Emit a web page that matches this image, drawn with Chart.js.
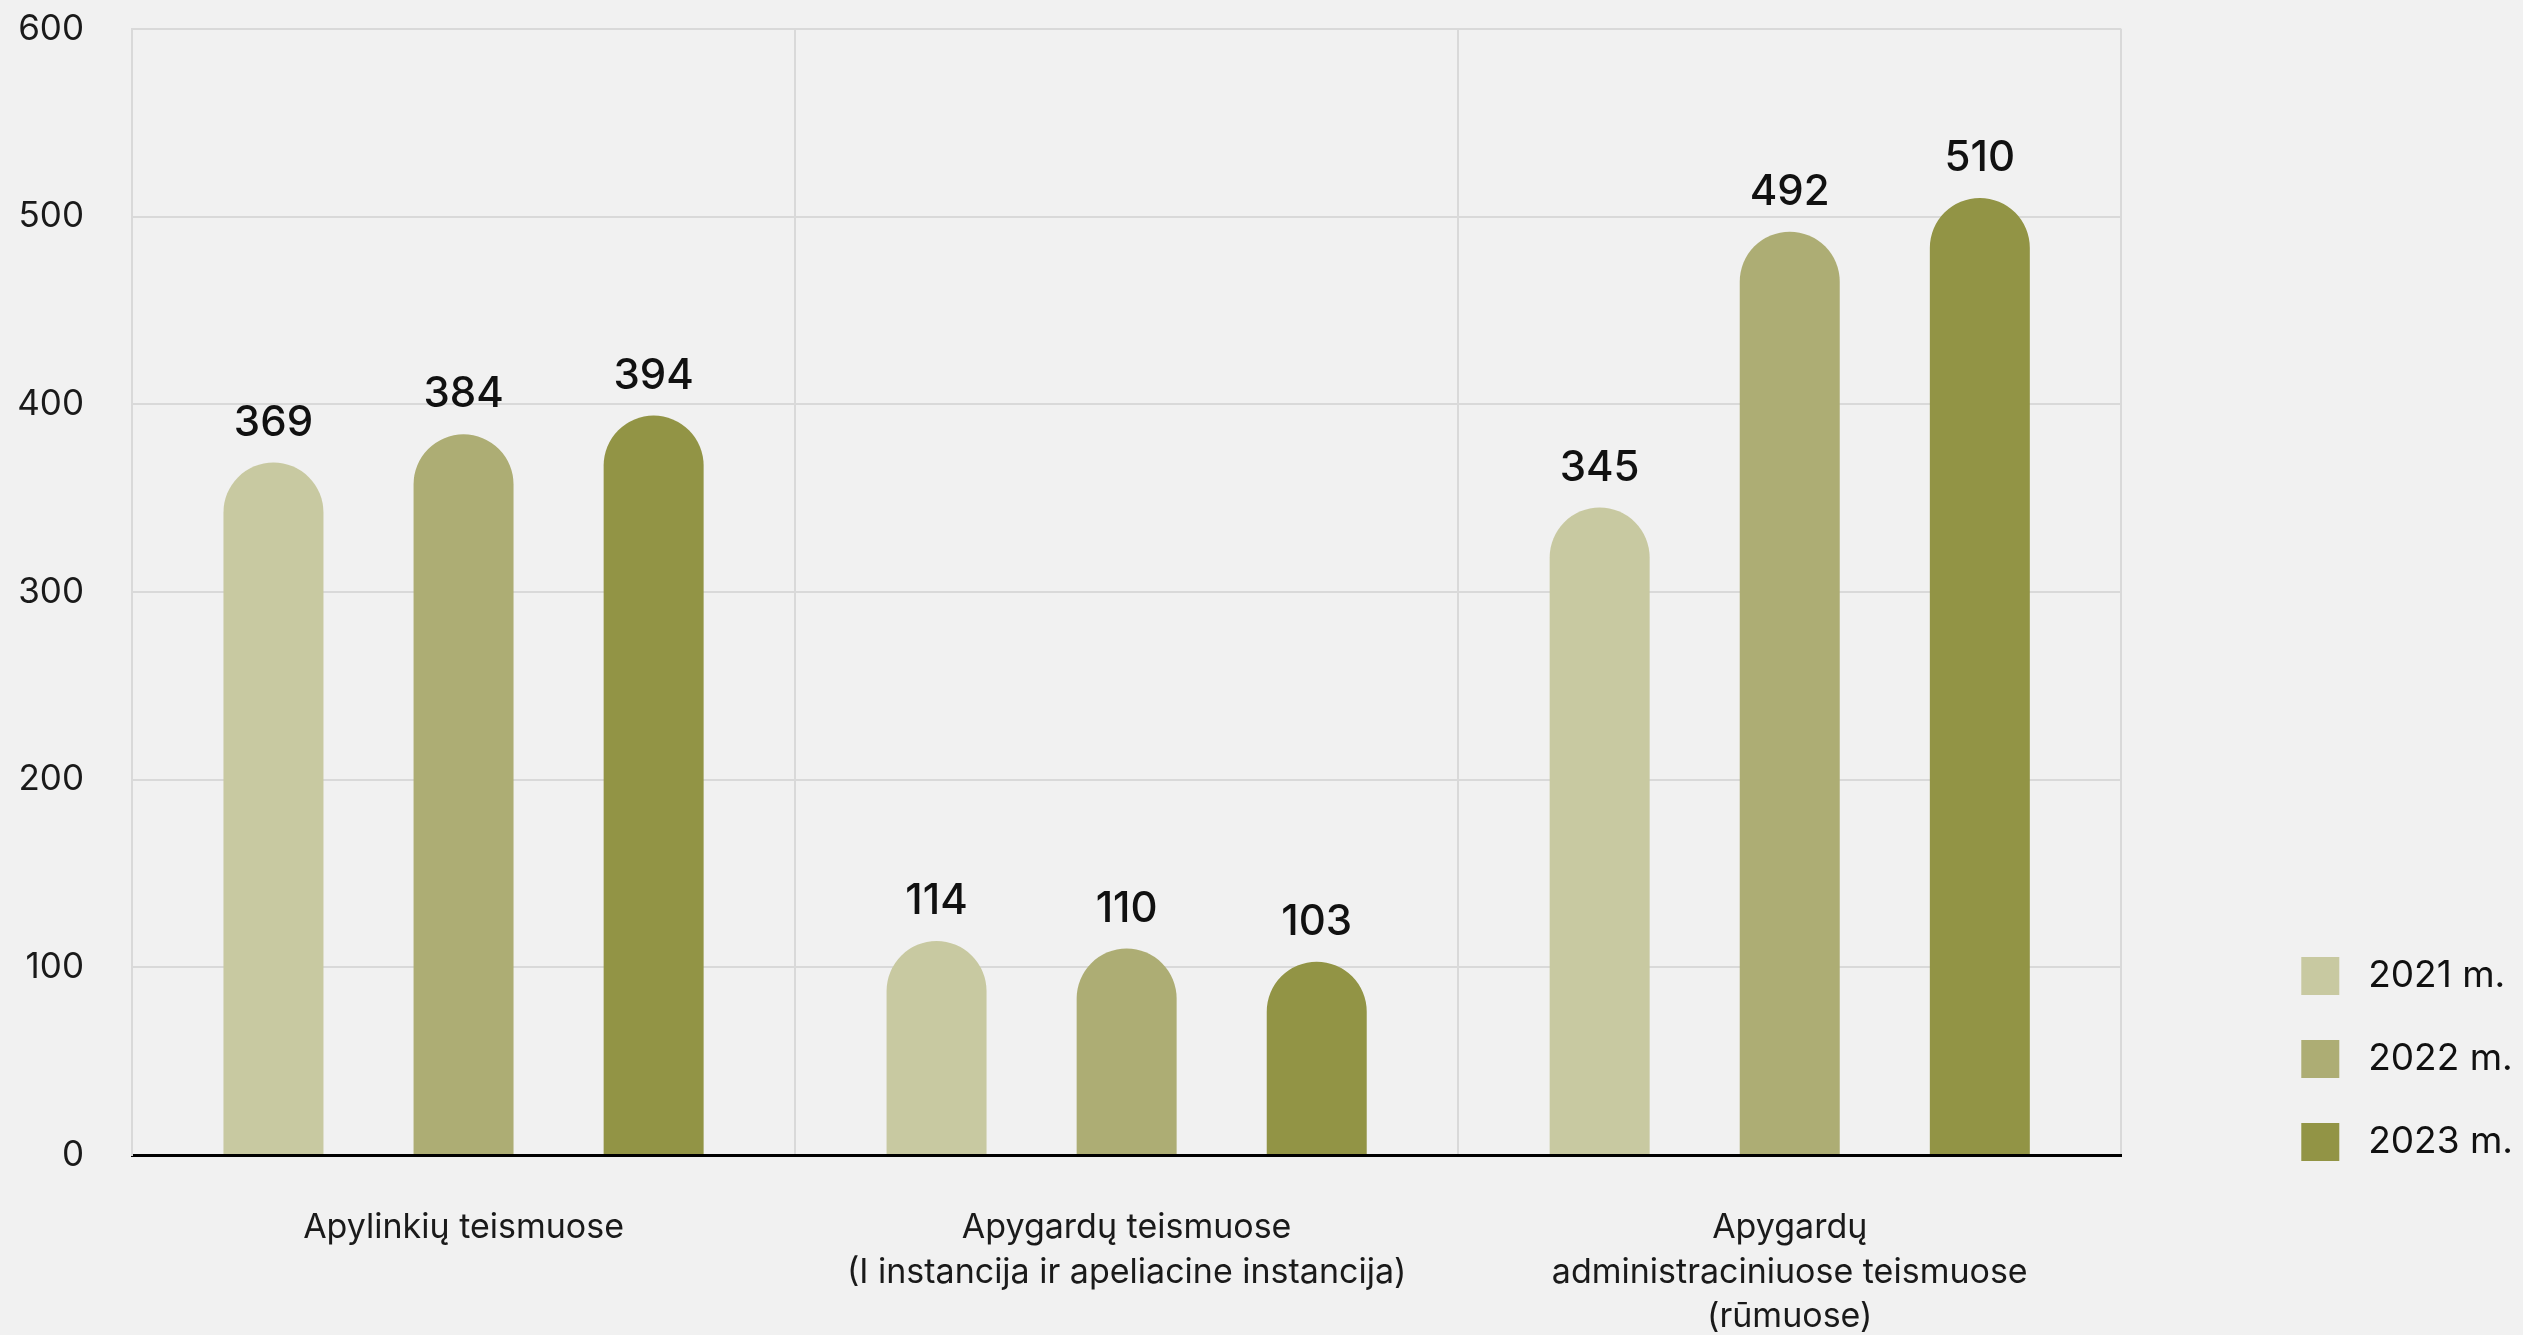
<!DOCTYPE html>
<html>
<head>
<meta charset="utf-8">
<script src="https://cdn.jsdelivr.net/npm/chart.js@4.4.1/dist/chart.umd.min.js"></script>
<style>
  html, body { margin: 0; padding: 0; background: #f1f1f1; }
  #wrap { width: 2523px; height: 1335px; }
</style>
</head>
<body>
<div id="wrap"><canvas id="chart" width="2523" height="1335"></canvas></div>
<script>
// categories (multi-line labels)
const categories = [
    ['Apylinkių teismuose'],
    ['Apygardų teismuose', '(I instancija ir apeliacine instancija)'],
    ['Apygardų', 'administraciniuose teismuose', '(rūmuose)']
];
const seriesNames = ['2021 m.', '2022 m.', '2023 m.'];
const values2021 = [369, 114, 345];
const values2022 = [384, 110, 492];
const values2023 = [394, 103, 510];
const colors = ['#c8c9a1', '#adad74', '#929445'];
const yTicks = [0, 100, 200, 300, 400, 500, 600];

const FONT = 'Inter, "Noto Sans", sans-serif';

// draws the value above each bar
const valueLabels = {
    id: 'valueLabels',
    afterDatasetsDraw(chart) {
        const ctx = chart.ctx;
        ctx.save();
        ctx.font = '500 42px ' + FONT;
        ctx.fillStyle = '#111111';
        ctx.textAlign = 'center';
        ctx.textBaseline = 'alphabetic';
        chart.data.datasets.forEach((ds, i) => {
            const meta = chart.getDatasetMeta(i);
            meta.data.forEach((bar, j) => {
                ctx.fillText(String(ds.data[j]), bar.x, bar.y - 27);
            });
        });
        ctx.restore();
    }
};

// push the legend block down so it sits at the bottom like the original
const legendDown = {
    id: 'legendDown',
    afterLayout(chart) {
        if (chart.legend) {
            chart.legend.bottom += 51;
        }
    }
};

const allSeries = [values2021, values2022, values2023];

const data = {
    labels: categories,
    datasets: allSeries.map((vals, i) => ({
        label: seriesNames[i],
        data: vals,
        backgroundColor: colors[i],
        borderWidth: 0,
        borderRadius: 50,
        borderSkipped: 'start',
        barPercentage: 0.526,
        categoryPercentage: 0.86
    }))
};

const config = {
    type: 'bar',
    data: data,
    plugins: [valueLabels, legendDown],
    options: {
        responsive: false,
        animation: false,
        layout: { padding: { top: 29, left: 0, right: 0, bottom: 0 } },
        plugins: {
            tooltip: { enabled: false },
            legend: {
                position: 'right',
                align: 'end',
                fullSize: false,
                labels: {
                    boxWidth: 38,
                    boxHeight: 38,
                    padding: 45,
                    color: '#111111',
                    font: { family: FONT, size: 37 },
                    generateLabels: (chart) => {
                        const items = Chart.defaults.plugins.legend.labels.generateLabels(chart);
                        items.forEach(it => { it.text = ' ' + it.text; it.lineWidth = 0; });
                        return items;
                    }
                }
            }
        },
        scales: {
            x: {
                grid: { color: '#d9d9d9', lineWidth: 2, drawTicks: false, offset: true },
                border: { color: '#000000', width: 3 },
                ticks: {
                    color: '#1a1a1a',
                    padding: 50,
                    maxRotation: 0,
                    font: { family: FONT, size: 34, lineHeight: 1.32 }
                },
                afterFit: (scale) => {
                    scale.height = 180;
                    scale.paddingLeft = 0;
                    scale.paddingRight = 0;
                }
            },
            y: {
                min: 0,
                max: 600,
                afterBuildTicks: (scale) => { scale.ticks = yTicks.map(v => ({ value: v })); },
                grid: { color: '#d9d9d9', lineWidth: 2, drawTicks: false },
                border: { color: '#d9d9d9', width: 2 },
                ticks: {
                    color: '#1a1a1a',
                    padding: 48,
                    font: { family: FONT, size: 35 }
                },
                afterFit: (scale) => {
                    scale.width = 132;
                    scale.paddingTop = 0;
                    scale.paddingBottom = 0;
                }
            },
            // empty spacer between plot and legend
            spacer: {
                type: 'linear',
                position: 'right',
                display: true,
                grid: { display: false },
                border: { display: false },
                ticks: { display: false },
                afterFit: (scale) => {
                    scale.width = 135;
                    scale.paddingTop = 0;
                    scale.paddingBottom = 0;
                }
            }
        }
    }
};

new Chart(document.getElementById('chart'), config);
</script>
</body>
</html>
